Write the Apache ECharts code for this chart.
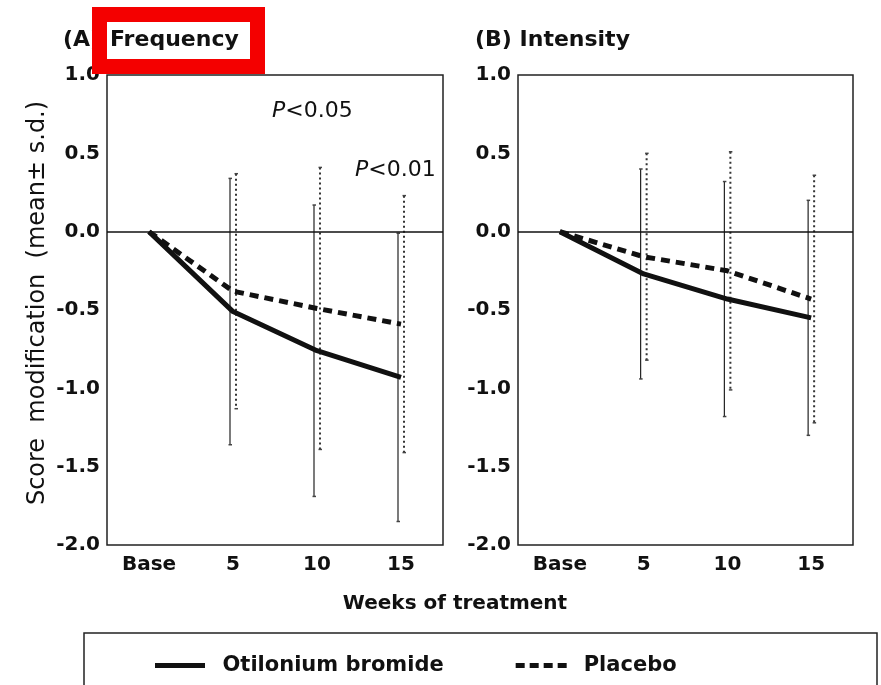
<!DOCTYPE html>
<html>
<head>
<meta charset="utf-8">
<script src="https://cdn.jsdelivr.net/npm/echarts@6/dist/echarts.min.js"></script>
<style>
  html, body { margin: 0; padding: 0; background: #fff; }
  #chart { width: 881px; height: 685px; }
</style>
</head>
<body>
<div id="chart"></div>
<script>
// Weeks of treatment (category axis)
const weeks = ['Base', '5', '10', '15'];
const yTicks = [-2.0, -1.5, -1.0, -0.5, 0.0, 0.5, 1.0];

// (A) Frequency: mean score change and s.d.
const freqOtiloniumMean = [0, -0.51, -0.76, -0.93];
const freqOtiloniumSd   = [null, 0.85, 0.93, 0.92];
const freqPlaceboMean   = [0, -0.38, -0.49, -0.59];
const freqPlaceboSd     = [null, 0.75, 0.90, 0.82];

// (B) Intensity: mean score change and s.d.
const intOtiloniumMean = [0, -0.27, -0.43, -0.55];
const intOtiloniumSd   = [null, 0.67, 0.75, 0.75];
const intPlaceboMean   = [0, -0.16, -0.25, -0.43];
const intPlaceboSd     = [null, 0.66, 0.76, 0.79];

const FONT = 'DejaVu Sans';
const INK = '#111';

// legend keys: a thick bar for the active drug, short dashes for placebo
const SOLID_KEY = 'path://M0,0H50V5H0Z';
const DASH_KEY = 'path://M0,0H9V5H0Z M14,0H23V5H14Z M28,0H37V5H28Z M42,0H51V5H42Z';

const chart = echarts.init(document.getElementById('chart'), null, { renderer: 'canvas' });

function xAxis(gridIndex) {
  return {
    type: 'category', gridIndex, data: weeks, boundaryGap: true,
    axisLine: { show: false }, axisTick: { show: false },
    axisLabel: { color: INK, fontFamily: FONT, fontWeight: 'bold', fontSize: 20, margin: 10 },
    splitLine: { show: false }
  };
}
function yAxis(gridIndex, withName) {
  const ax = {
    type: 'value', gridIndex, min: yTicks[0], max: yTicks[yTicks.length - 1], interval: 0.5,
    axisLine: { show: false }, axisTick: { show: false }, splitLine: { show: false },
    axisLabel: { color: INK, fontFamily: FONT, fontWeight: 'bold', fontSize: 20, margin: 7,
      formatter: v => v.toFixed(1) }
  };
  if (withName) {
    Object.assign(ax, {
      name: 'Score  modification  (mean\u00b1 s.d.)', nameLocation: 'middle', nameRotate: 90, nameGap: 57,
      nameTextStyle: { color: INK, fontFamily: FONT, fontSize: 24, padding: [0, 0, 0, 14] }
    });
  }
  return ax;
}

function meanLine(name, idx, values, dashed, withZero) {
  const s = {
    name, type: 'line', xAxisIndex: idx, yAxisIndex: idx, data: values,
    symbol: 'none', z: 5, animation: false,
    lineStyle: { color: INK, width: 5, type: dashed ? [9, 6] : 'solid' },
    itemStyle: { color: INK }
  };
  if (withZero) {
    s.markLine = {
      silent: true, symbol: 'none', label: { show: false },
      lineStyle: { color: INK, width: 1.5, type: 'solid' },
      data: [{ yAxis: 0 }]
    };
  }
  return s;
}

// Vertical mean ± s.d. bars, nudged a few pixels so the two groups sit side by side
function sdBars(name, idx, means, sds, offset, dotted) {
  const data = [];
  means.forEach((m, i) => { if (sds[i] != null) data.push([i, m + sds[i], m - sds[i]]); });
  return {
    name, type: 'custom', xAxisIndex: idx, yAxisIndex: idx, z: 3, animation: false,
    data,
    renderItem(params, api) {
      const hi = api.coord([api.value(0), api.value(1)]);
      const lo = api.coord([api.value(0), api.value(2)]);
      const x = hi[0] + offset;
      return {
        type: 'group',
        children: [
          { type: 'line', shape: { x1: x, y1: hi[1], x2: x, y2: lo[1] },
            style: { stroke: dotted ? '#333' : '#222', lineWidth: dotted ? 2 : 1.2,
                     lineDash: dotted ? [2, 3] : null } },
          { type: 'line', shape: { x1: x - 1.5, y1: lo[1], x2: x + 2, y2: lo[1] },
            style: { stroke: '#444', lineWidth: 1.5 } },
          { type: 'line', shape: { x1: x - 1.5, y1: hi[1], x2: x + 2, y2: hi[1] },
            style: { stroke: '#444', lineWidth: 1.5 } }
        ]
      };
    }
  };
}

const pNote = { i: { fontStyle: 'italic', fontFamily: FONT, fontSize: 22, fill: INK } };

const option = {
  backgroundColor: '#fff',
  animation: false,
  grid: [
    { left: 107, top: 75, width: 336, height: 470, show: true, borderColor: '#222', borderWidth: 1.5, backgroundColor: 'transparent' },
    { left: 518, top: 75, width: 335, height: 470, show: true, borderColor: '#222', borderWidth: 1.5, backgroundColor: 'transparent' }
  ],
  xAxis: [xAxis(0), xAxis(1)],
  yAxis: [yAxis(0, true), yAxis(1, false)],
  legend: {
    left: 150, top: 650, itemWidth: 51, itemHeight: 5, itemGap: 72,
    data: [
      { name: 'Otilonium bromide', icon: SOLID_KEY },
      { name: 'Placebo', icon: DASH_KEY }
    ],
    itemStyle: { color: INK },
    textStyle: { color: INK, fontFamily: FONT, fontWeight: 'bold', fontSize: 21, padding: [0, 0, 0, 12] },
    selectedMode: false
  },
  series: [
    sdBars('Otilonium s.d. A', 0, freqOtiloniumMean, freqOtiloniumSd, -3, false),
    sdBars('Placebo s.d. A', 0, freqPlaceboMean, freqPlaceboSd, 3, true),
    meanLine('Otilonium bromide', 0, freqOtiloniumMean, false, true),
    meanLine('Placebo', 0, freqPlaceboMean, true, false),
    sdBars('Otilonium s.d. B', 1, intOtiloniumMean, intOtiloniumSd, -3, false),
    sdBars('Placebo s.d. B', 1, intPlaceboMean, intPlaceboSd, 3, true),
    meanLine('Otilonium bromide', 1, intOtiloniumMean, false, true),
    meanLine('Placebo', 1, intPlaceboMean, true, false)
  ],
  graphic: [
    // panel titles
    { type: 'text', left: 63, top: 29, z: 10,
      style: { text: '(A)', fill: INK, font: 'bold 22px "DejaVu Sans"' } },
    { type: 'rect', z: 20, shape: { x: 99.5, y: 14.5, width: 158, height: 52 },
      style: { fill: '#fff', stroke: '#f40000', lineWidth: 15 } },
    { type: 'text', left: 110, top: 29, z: 21,
      style: { text: 'Frequency', fill: INK, font: 'bold 22px "DejaVu Sans"' } },
    { type: 'text', left: 475, top: 29, z: 10,
      style: { text: '(B) Intensity', fill: INK, font: 'bold 22px "DejaVu Sans"' } },
    // significance notes
    { type: 'text', left: 272, top: 100, z: 10,
      style: { text: '{i|P}<0.05', fill: INK, font: '22px "DejaVu Sans"', rich: pNote } },
    { type: 'text', left: 355, top: 159, z: 10,
      style: { text: '{i|P}<0.01', fill: INK, font: '22px "DejaVu Sans"', rich: pNote } },
    // shared x-axis title
    { type: 'text', x: 455, y: 604, z: 10,
      style: { text: 'Weeks of treatment', fill: INK, font: 'bold 20px "DejaVu Sans"',
        textAlign: 'center', textVerticalAlign: 'middle' } },
    // legend frame
    { type: 'rect', z: 1, shape: { x: 84, y: 633, width: 793, height: 80 },
      style: { fill: 'none', stroke: '#222', lineWidth: 1.5 } }
  ]
};

chart.setOption(option);
</script>
</body>
</html>
